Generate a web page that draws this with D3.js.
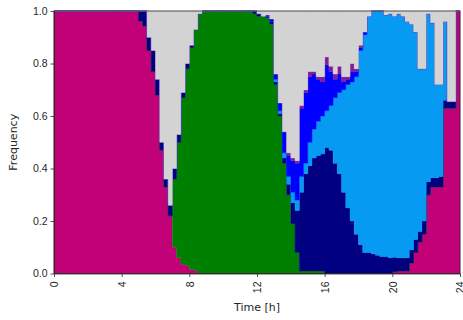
<!DOCTYPE html>
<html>
<head>
<meta charset="utf-8">
<script src="https://cdn.jsdelivr.net/npm/d3@7"></script>
<style>
  body { margin: 0; background: #fff; }
  svg { display: block; font-family: "DejaVu Sans", sans-serif; }
  .axis text { font-size: 10.5px; fill: #262626; }
  .axis path, .axis line { stroke: #262626; stroke-width: 0.8; }
</style>
</head>
<body>
<script>
// 15-minute bins over one day, fraction of each state (bottom to top of the stack)
const xTicks = [0, 4, 8, 12, 16, 20, 24];
const yTicks = [0, 0.2, 0.4, 0.6, 0.8, 1.0];
const binHours = 0.25;

const magenta = [
  1,1,1,1,1,1,1,1,1,1,1,1,1,1,1,1,1,1,1,1,
  .962,.943,.85,.77,.68,.47,.33,.22,.10,.06,.035,.03,.015,.012,0,
  0,0,0,0,0,0,0,0,0,0,0,0,0,0,0,0,0,0,0,0,0,0,0,0,0,0,0,0,0,0,0,0,0,0,0,0,0,0,0,0,0,0,0,0,0,
  .007,.01,.01,.01,.04,.08,.12,.15,.30,.33,.33,.33,.63,.63,.63,1
];
const green = [
  0,0,0,0,0,0,0,0,0,0,0,0,0,0,0,0,0,0,0,0,0,0,0,0,0,0,0,0,
  .26,.44,.635,.75,.845,.918,.99,
  1,1,1,1,1,1,1,1,1,1,1,1,
  .99,.98,.98,.975,.95,.72,.60,.42,.30,.19,.08,.01,.01,.01,.01,.01,.01,
  0,0,0,0,0,0,0,0,0,0,0,0,0,0,0,0,0,0,0,0,0,0,0,0,0,0,0,0,0,0,0,0
];
const navy = [
  0,0,0,0,0,0,0,0,0,0,0,0,0,0,0,0,0,0,0,0,
  .038,.057,.05,.08,.06,.03,.03,.04,.04,.03,.02,.02,.01,0,0,
  0,0,0,0,0,0,0,0,0,0,0,0,
  .01,.01,0,.005,.01,.01,.01,.02,.04,.08,.16,.30,.37,.40,.43,.44,.445,
  .48,.47,.42,.38,.31,.25,.20,.15,.11,.08,.08,.075,.07,.065,.065,.06,
  .055,.05,.05,.05,.05,.05,.04,.05,.05,.035,.035,.04,.03,.025,.025,0
];
const azure = [
  0,0,0,0,0,0,0,0,0,0,0,0,0,0,0,0,0,0,0,0,0,0,0,0,0,0,0,0,0,0,0,0,0,0,0,0,0,0,0,0,0,0,0,0,0,0,0,0,0,0,0,0,
  .01,.01,.02,.03,.04,.04,.06,.04,.09,.11,.13,.145,
  .14,.17,.25,.31,.39,.47,.53,.60,.74,.83,.90,.925,.93,.935,.92,.93,
  .918,.93,.92,.90,.86,.79,.62,.58,.64,.59,.355,.35,.30,0,0,0
];
const blue = [
  0,0,0,0,0,0,0,0,0,0,0,0,0,0,0,0,0,0,0,0,0,0,0,0,0,0,0,0,0,0,0,0,0,0,0,0,0,0,0,0,0,0,0,0,0,0,0,0,0,0,
  .005,.01,.02,.03,.08,.08,.12,.14,.26,.27,.25,.21,.16,.13,
  .175,.13,.07,.07,.03,.02,.04,.02,.01,.01,
  0,0,0,0,0,0,0,0,0,0,0,0,0,0,0,0,0,0,0,0,0,0
];
const purple = [
  0,0,0,0,0,0,0,0,0,0,0,0,0,0,0,0,0,0,0,0,0,0,0,0,0,0,0,0,0,0,0,0,0,0,0,0,0,0,0,0,0,0,0,0,0,0,0,0,0,0,0,0,0,0,0,
  .01,.01,.01,.01,.01,.02,.01,.01,.02,.03,.02,.02,.03,.02,.01,.03,.01,.01,
  0,0,0,0,0,0,0,0,0,0,0,0,0,0,0,0,0,0,0,0,0,0,0
];
const grey = [
  0,0,0,0,0,0,0,0,0,0,0,0,0,0,0,0,0,0,0,0,0,0,
  .10,.15,.26,.50,.64,.74,.60,.47,.31,.20,.13,.07,.01,
  0,0,0,0,0,0,0,0,0,0,0,0,0,
  .01,.02,.015,.03,.24,.35,.46,.54,.56,.57,.36,.30,.23,.23,.25,.25,.175,.21,.24,.21,.25,.25,.20,.22,.13,.08,
  .02,0,0,0,.015,.01,.02,.01,.02,.04,.05,.08,.22,.22,.01,.045,.28,.28,.04,.345,.345,0
];

const keys = ["magenta", "green", "navy", "azure", "blue", "purple", "grey"];
const colors = {
  magenta: "#c20078", green: "#008000", navy: "#000080", azure: "#069af3",
  blue: "#0000ff", purple: "#7e1e9c", grey: "#d3d3d3"
};
const series = { magenta, green, navy, azure, blue, purple, grey };

const rows = magenta.map((_, i) => {
  const r = { t: i * binHours };
  keys.forEach(k => r[k] = series[k][i]);
  return r;
});
// closing row so the last step reaches 24 h
rows.push(Object.assign({}, rows[rows.length - 1], { t: 24 }));

const W = 463, H = 320;
const margin = { top: 11, right: 3, bottom: 46.5, left: 54 };
const width = W - margin.left - margin.right;
const height = H - margin.top - margin.bottom;

const svg = d3.select("body").append("svg")
  .attr("width", W).attr("height", H);
const g = svg.append("g")
  .attr("transform", "translate(" + margin.left + "," + margin.top + ")");

const x = d3.scaleLinear().domain([0, 24]).range([0, width]);
const y = d3.scaleLinear().domain([0, 1]).range([height, 0]);

const stack = d3.stack().keys(keys);
const layers = stack(rows);

const area = d3.area()
  .curve(d3.curveStepAfter)
  .x(d => x(d.data.t))
  .y0(d => y(d[0]))
  .y1(d => y(Math.min(1, d[1])));

g.append("g").selectAll("path")
  .data(layers)
  .enter().append("path")
  .attr("d", area)
  .attr("fill", d => colors[d.key])
  .attr("stroke", d => colors[d.key])
  .attr("stroke-width", 0.4);

// x axis
const xAxis = g.append("g")
  .attr("class", "axis")
  .attr("transform", "translate(0," + height + ")")
  .call(d3.axisBottom(x).tickValues(xTicks).tickSize(3.5).tickSizeOuter(0));
xAxis.selectAll("text")
  .attr("transform", "rotate(-90)")
  .attr("x", -8)
  .attr("y", 0)
  .attr("dy", "0.35em")
  .style("text-anchor", "end");

// y axis
g.append("g")
  .attr("class", "axis")
  .call(d3.axisLeft(y).tickValues(yTicks).tickFormat(d3.format(".1f")).tickSize(3.5).tickSizeOuter(0));

// frame
g.append("rect")
  .attr("width", width).attr("height", height)
  .attr("fill", "none")
  .attr("stroke", "#262626")
  .attr("stroke-width", 0.8);

svg.append("text")
  .attr("x", margin.left + width / 2)
  .attr("y", 311)
  .attr("text-anchor", "middle")
  .attr("font-size", 11)
  .attr("fill", "#262626")
  .text("Time [h]");

svg.append("text")
  .attr("transform", "translate(17," + (margin.top + height / 2) + ") rotate(-90)")
  .attr("text-anchor", "middle")
  .attr("font-size", 11)
  .attr("fill", "#262626")
  .text("Frequency");
</script>
</body>
</html>
